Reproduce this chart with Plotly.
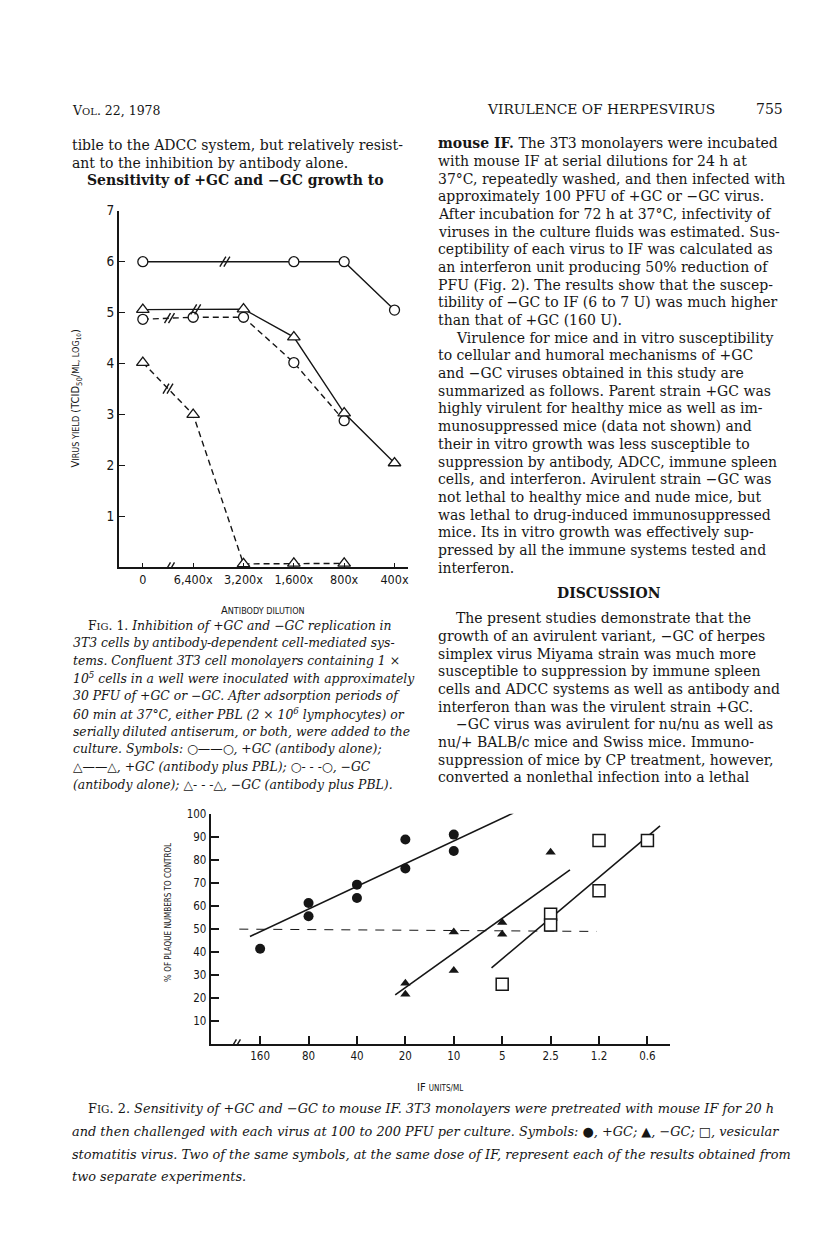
import plotly.graph_objects as go

W, H = 816, 1253
SERIF = "DejaVu Serif, Liberation Serif, serif"
SANS = "Liberation Sans Narrow, DejaVu Sans Condensed, DejaVu Sans, sans-serif"
INK = "#161616"

# ---- Fig. 1: virus yield (log10 TCID50/ml) vs antibody dilution
dilution_labels = ["0", "6,400x", "3,200x", "1,600x", "800x", "400x"]
yield_ticks = [1, 2, 3, 4, 5, 6, 7]
pos_ab_x = [0, 3, 4, 5]                 # +GC, antibody alone
pos_ab_y = [6.0, 6.0, 6.0, 5.05]
pos_pbl_x = [0, 2, 3, 4, 5]             # +GC, antibody plus PBL
pos_pbl_y = [5.06, 5.07, 4.52, 3.03, 2.05]
neg_ab_x = [0, 1, 2, 3, 4]              # -GC, antibody alone
neg_ab_y = [4.87, 4.91, 4.91, 4.02, 2.88]
neg_pbl_x = [0, 1, 2, 3, 4]             # -GC, antibody plus PBL
neg_pbl_y = [4.02, 3.0, 0.07, 0.08, 0.08]
# where the "//" break marks sit on each line (x position along the axis)
break_pos_ab = 1.63
break_pos_pbl = 1.05
break_neg_ab = 0.53
break_neg_pbl = 0.5
break_axis1 = 0.53

# ---- Fig. 2: % of plaque numbers vs IF units/ml
if_labels = ["160", "80", "40", "20", "10", "5", "2.5", "1.2", "0.6"]
plaque_ticks = [10, 20, 30, 40, 50, 60, 70, 80, 90, 100]
gc_pos_x = [0, 1, 1, 2, 2, 3, 3, 4, 4, 5, 5]
gc_pos_y = [41.5, 61.3, 55.6, 69.3, 63.5, 88.9, 76.3, 91.0, 83.9, 103.2, 100.2]
gc_neg_x = [3, 3, 4, 4, 5, 5, 6]
gc_neg_y = [26.5, 21.7, 48.8, 32.1, 52.9, 47.8, 83.4]
vsv_x = [5, 6, 6, 7, 7, 8]
vsv_y = [26.1, 56.5, 51.8, 88.4, 66.7, 88.4]
# fitted lines drawn on the figure (end points)
fit_pos_x, fit_pos_y = [-0.21, 5.23], [46.8, 100.4]
fit_neg_x, fit_neg_y = [2.79, 6.40], [21.5, 75.7]
fit_vsv_x, fit_vsv_y = [4.78, 8.26], [33.2, 94.8]
half_x, half_y = [-0.43, 6.95], [50, 49]
break_axis2 = -0.51

fig = go.Figure()

# Fig. 1 traces
open_circle = dict(symbol="circle", size=10, color="white", line=dict(color=INK, width=1.3))
open_tri = dict(symbol="triangle-up", size=11, color="white", line=dict(color=INK, width=1.3))
fig.add_trace(go.Scatter(x=neg_pbl_x, y=neg_pbl_y, mode="lines+markers", line=dict(color=INK, width=1.4, dash="6px,4px"),
                         marker=open_tri, cliponaxis=False, xaxis="x", yaxis="y"))
fig.add_trace(go.Scatter(x=neg_ab_x, y=neg_ab_y, mode="lines+markers", line=dict(color=INK, width=1.4, dash="6px,4px"),
                         marker=open_circle, cliponaxis=False, xaxis="x", yaxis="y"))
fig.add_trace(go.Scatter(x=pos_pbl_x, y=pos_pbl_y, mode="lines+markers", line=dict(color=INK, width=1.4),
                         marker=open_tri, cliponaxis=False, xaxis="x", yaxis="y"))
fig.add_trace(go.Scatter(x=pos_ab_x, y=pos_ab_y, mode="lines+markers", line=dict(color=INK, width=1.4),
                         marker=open_circle, cliponaxis=False, xaxis="x", yaxis="y"))

# Fig. 2 traces
fig.add_trace(go.Scatter(x=half_x, y=half_y, mode="lines", line=dict(color=INK, width=1, dash="9px,8px"),
                         xaxis="x2", yaxis="y2"))
for fx, fy in [(fit_pos_x, fit_pos_y), (fit_neg_x, fit_neg_y), (fit_vsv_x, fit_vsv_y)]:
    fig.add_trace(go.Scatter(x=fx, y=fy, mode="lines", line=dict(color=INK, width=1.6),
                             cliponaxis=False, xaxis="x2", yaxis="y2"))
fig.add_trace(go.Scatter(x=gc_pos_x, y=gc_pos_y, mode="markers", cliponaxis=False,
                         marker=dict(symbol="circle", size=10, color=INK), xaxis="x2", yaxis="y2"))
fig.add_trace(go.Scatter(x=gc_neg_x, y=gc_neg_y, mode="markers", cliponaxis=False,
                         marker=dict(symbol="triangle-up", size=9, color=INK), xaxis="x2", yaxis="y2"))
fig.add_trace(go.Scatter(x=vsv_x, y=vsv_y, mode="markers", cliponaxis=False,
                         marker=dict(symbol="square", size=12, color="white", line=dict(color=INK, width=1.5)),
                         xaxis="x2", yaxis="y2"))


def interp(xs, ys, x):
    for i in range(len(xs) - 1):
        if xs[i] <= x <= xs[i + 1]:
            t = (x - xs[i]) / (xs[i + 1] - xs[i])
            return ys[i] + t * (ys[i + 1] - ys[i])
    return ys[-1]


shapes = []


def slash_break(x, y, xref, yref, h=5):
    # two short slanted strokes, sized in pixels around a data point
    for k in (-2, 2):
        shapes.append(dict(type="line", xref=xref, yref=yref, xsizemode="pixel", ysizemode="pixel",
                           xanchor=x, yanchor=y, x0=k - 3, x1=k + 3, y0=-h, y1=h,
                           line=dict(color=INK, width=1.4)))


slash_break(break_pos_ab, interp(pos_ab_x, pos_ab_y, break_pos_ab), "x", "y")
slash_break(break_pos_pbl, interp(pos_pbl_x, pos_pbl_y, break_pos_pbl), "x", "y")
slash_break(break_neg_ab, interp(neg_ab_x, neg_ab_y, break_neg_ab), "x", "y")
slash_break(break_neg_pbl, interp(neg_pbl_x, neg_pbl_y, break_neg_pbl), "x", "y")
slash_break(break_axis1, 0, "x", "y")
slash_break(break_axis2, 0, "x2", "y2")

# ---- page text
annotations = []


def px(x):
    return x / W


def py(y):
    return 1 - y / H


def text(x, y, s, size=14, family=SERIF, anchor="left", angle=0, color=INK):
    annotations.append(dict(x=px(x), y=py(y), xref="paper", yref="paper", text=s, showarrow=False,
                            xanchor=anchor, yanchor="middle", textangle=angle,
                            font=dict(family=family, size=size, color=color)))


BODY = 14
text(62, 95, "V<span style='font-size:10px'>OL</span>. 22, 1978", 12.5)
text(478, 94, "VIRULENCE OF HERPESVIRUS", 13.8)
text(747, 94, "755", 14)

left_lines = [
    (62, "tible to the ADCC system, but relatively resist-"),
    (62, "ant to the inhibition by antibody alone."),
    (77, "<b>Sensitivity of +GC and −GC growth to</b>"),
]
for i, (x, s) in enumerate(left_lines):
    text(x, 130 + 17.5 * i, s, BODY)

right_lines = [
    "<b>mouse IF.</b> The 3T3 monolayers were incubated",
    "with mouse IF at serial dilutions for 24 h at",
    "37°C, repeatedly washed, and then infected with",
    "approximately 100 PFU of +GC or −GC virus.",
    "After incubation for 72 h at 37°C, infectivity of",
    "viruses in the culture fluids was estimated. Sus-",
    "ceptibility of each virus to IF was calculated as",
    "an interferon unit producing 50% reduction of",
    "PFU (Fig. 2). The results show that the suscep-",
    "tibility of −GC to IF (6 to 7 U) was much higher",
    "than that of +GC (160 U).",
    "\tVirulence for mice and in vitro susceptibility",
    "to cellular and humoral mechanisms of +GC",
    "and −GC viruses obtained in this study are",
    "summarized as follows. Parent strain +GC was",
    "highly virulent for healthy mice as well as im-",
    "munosuppressed mice (data not shown) and",
    "their in vitro growth was less susceptible to",
    "suppression by antibody, ADCC, immune spleen",
    "cells, and interferon. Avirulent strain −GC was",
    "not lethal to healthy mice and nude mice, but",
    "was lethal to drug-induced immunosuppressed",
    "mice. Its in vitro growth was effectively sup-",
    "pressed by all the immune systems tested and",
    "interferon.",
]
for i, s in enumerate(right_lines):
    x = 447 if s.startswith("\t") else 429
    text(x, 128 + 17.8 * i, s.lstrip("\t"), BODY)

text(602, 581, "<b>DISCUSSION</b>", BODY, anchor="center")

disc_lines = [
    "\tThe present studies demonstrate that the",
    "growth of an avirulent variant, −GC of herpes",
    "simplex virus Miyama strain was much more",
    "susceptible to suppression by immune spleen",
    "cells and ADCC systems as well as antibody and",
    "interferon than was the virulent strain +GC.",
    "\t−GC virus was avirulent for nu/nu as well as",
    "nu/+ BALB/c mice and Swiss mice. Immuno-",
    "suppression of mice by CP treatment, however,",
    "converted a nonlethal infection into a lethal",
]
for i, s in enumerate(disc_lines):
    x = 447 if s.startswith("\t") else 429
    text(x, 606 + 17.8 * i, s.lstrip("\t"), BODY)

cap1 = [
    "F<span style='font-size:10px'>IG</span>. 1. <i>Inhibition of +GC and −GC replication in</i>",
    "<i>3T3 cells by antibody-dependent cell-mediated sys-</i>",
    "<i>tems. Confluent 3T3 cell monolayers containing 1 ×</i>",
    "<i>10<sup>5</sup> cells in a well were inoculated with approximately</i>",
    "<i>30 PFU of +GC or −GC. After adsorption periods of</i>",
    "<i>60 min at 37°C, either PBL (2 × 10<sup>6</sup> lymphocytes) or</i>",
    "<i>serially diluted antiserum, or both, were added to the</i>",
    "<i>culture. Symbols: ○——○, +GC (antibody alone);</i>",
    "<i>△——△, +GC (antibody plus PBL); ○- - -○, −GC</i>",
    "<i>(antibody alone); △- - -△, −GC (antibody plus PBL).</i>",
]
for i, s in enumerate(cap1):
    text(78 if i == 0 else 63, 613 + 17.8 * i, s, 12.4)

cap2 = [
    "F<span style='font-size:10.5px'>IG</span>. 2. <i>Sensitivity of +GC and −GC to mouse IF. 3T3 monolayers were pretreated with mouse IF for 20 h</i>",
    "<i>and then challenged with each virus at 100 to 200 PFU per culture. Symbols: ●, +GC; ▲, −GC; □, vesicular</i>",
    "<i>stomatitis virus. Two of the same symbols, at the same dose of IF, represent each of the results obtained from</i>",
    "<i>two separate experiments.</i>",
]
for i, s in enumerate(cap2):
    text(78 if i == 0 else 62, 1100 + 22.7 * i, s, 12.9)

# axis titles (small caps)
text(68, 385, "V<span style='font-size:9px'>IRUS YIELD</span> (TCID<sub>50</sub>/<span style='font-size:9px'>ML, LOG<sub>10</sub></span>)",
     11, SANS, anchor="center", angle=-90)
text(255, 598, "A<span style='font-size:9px'>NTIBODY DILUTION</span>", 11, SANS, anchor="center")
text(160, 902, "% <span style='font-size:8px'>OF PLAQUE NUMBERS TO CONTROL</span>", 9, SANS, anchor="center", angle=-90)
text(433, 1078, "IF <span style='font-size:8px'>UNITS/ML</span>", 11, SANS, anchor="center")

axis_common = dict(showgrid=False, zeroline=False, showline=True, linecolor=INK, ticks="inside",
                   tickcolor=INK, fixedrange=True)

fig.update_layout(
    width=W, height=H, margin=dict(l=0, r=0, t=0, b=0), autosize=False,
    paper_bgcolor="white", plot_bgcolor="white", showlegend=False,
    xaxis=dict(axis_common, domain=[px(111), px(400)], range=[-0.476, 5.258], anchor="y",
               tickvals=list(range(len(dilution_labels))), ticktext=dilution_labels,
               tickfont=dict(family=SANS, size=12.5, color=INK),
               linewidth=1.8, ticklen=5, tickwidth=1.4),
    yaxis=dict(axis_common, domain=[py(555), py(196)], range=[0, 7], anchor="x",
               tickvals=yield_ticks, ticktext=[str(v) for v in yield_ticks],
               tickfont=dict(family=SANS, size=13.5, color=INK),
               linewidth=1.8, ticklen=6, tickwidth=1.4),
    xaxis2=dict(axis_common, domain=[px(203), px(663)], range=[-1.02, 8.47], anchor="y2",
                tickvals=list(range(len(if_labels))), ticktext=if_labels,
                tickfont=dict(family=SANS, size=11.5, color=INK),
                linewidth=2, ticklen=8, tickwidth=1.5),
    yaxis2=dict(axis_common, domain=[py(1035), py(803)], range=[0, 100], anchor="x2",
                tickvals=plaque_ticks, ticktext=[str(v) for v in plaque_ticks],
                tickfont=dict(family=SANS, size=11.5, color=INK),
                linewidth=2, ticklen=8, tickwidth=1.5),
    shapes=shapes,
    annotations=annotations,
)

fig.write_html("out.html")
